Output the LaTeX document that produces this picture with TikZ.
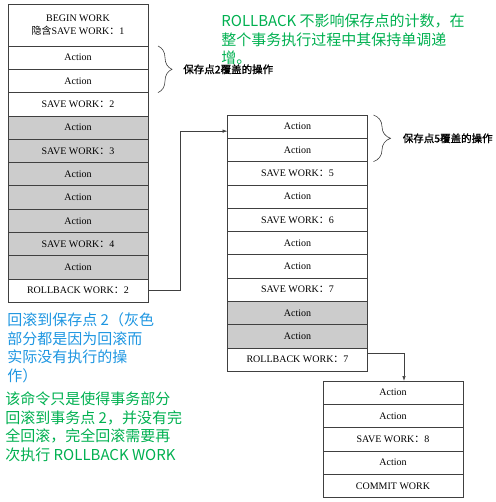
\documentclass[tikz,border=0pt]{standalone}
\usepackage{fontspec}
\setmainfont{Liberation Serif}
\newfontfamily\cjk{Noto Sans CJK SC}
\newfontfamily\cjkheavy[FakeBold=1.2]{Noto Sans CJK SC}
\usepackage{tikz}
\usetikzlibrary{arrows.meta, positioning, decorations.pathreplacing}
\definecolor{colorNoteGreen}{RGB}{0,176,80}
\definecolor{colorNoteBlue}{RGB}{30,150,225}
\colorlet{colorUndone}{black!20}
\colorlet{colorFrame}{black!75}
\newcommand{\zhcolon}{{\cjk ：}}
\tikzset{
  cell/.style={draw=colorFrame, line width=0.7pt, minimum width=140pt, minimum height=23.3pt, inner sep=0pt, outer sep=0pt, text=black, font=\fontsize{10}{13}\selectfont},
  undone/.style={cell, fill=colorUndone},
  braceMark/.style={decorate, decoration={brace, amplitude=#1}, line width=0.6pt, colorFrame},
  braceText/.style={midway, anchor=west, inner sep=0pt, text=black, font=\cjkheavy\fontsize{10.5}{12}\selectfont},
  note/.style={anchor=north west, inner sep=0pt, align=left, font=\cjk\fontsize{15}{18.6}\selectfont},
}

\begin{document}
\begin{tikzpicture}[x=1pt, y=-1pt, >={Latex[length=5pt,width=3.5pt]}, line width=0.7pt]
\useasboundingbox (0,0) rectangle (495,502);
% left column, rolled back to save point 2
\node[cell, minimum height=42pt, align=center] (begin) at (78,25) {BEGIN WORK\\{\cjk 隐含}SAVE WORK\zhcolon 1};
\node[cell, below=0pt of begin] (a1) {Action};
\node[cell, below=0pt of a1] (a2) {Action};
\node[cell, below=0pt of a2] (sw2) {SAVE WORK\zhcolon 2};
\node[undone, below=0pt of sw2] (a3) {Action};
\node[undone, below=0pt of a3] (sw3) {SAVE WORK\zhcolon 3};
\node[undone, below=0pt of sw3] (a4) {Action};
\node[undone, below=0pt of a4] (a5) {Action};
\node[undone, below=0pt of a5] (a6) {Action};
\node[undone, below=0pt of a6] (sw4) {SAVE WORK\zhcolon 4};
\node[undone, below=0pt of sw4] (a7) {Action};
\node[cell, below=0pt of a7] (rb2) {ROLLBACK WORK\zhcolon 2};
% middle column, rolled back to save point 7
\node[cell] (b1) at (297.5,126.65) {Action};
\node[cell, below=0pt of b1] (b2) {Action};
\node[cell, below=0pt of b2] (sw5) {SAVE WORK\zhcolon 5};
\node[cell, below=0pt of sw5] (b3) {Action};
\node[cell, below=0pt of b3] (sw6) {SAVE WORK\zhcolon 6};
\node[cell, below=0pt of sw6] (b4) {Action};
\node[cell, below=0pt of b4] (b5) {Action};
\node[cell, below=0pt of b5] (sw7) {SAVE WORK\zhcolon 7};
\node[undone, below=0pt of sw7] (b6) {Action};
\node[undone, below=0pt of b6] (b7) {Action};
\node[cell, below=0pt of b7] (rb7) {ROLLBACK WORK\zhcolon 7};
% right column, committed
\node[cell] (c1) at (393,392.65) {Action};
\node[cell, below=0pt of c1] (c2) {Action};
\node[cell, below=0pt of c2] (sw8) {SAVE WORK\zhcolon 8};
\node[cell, below=0pt of sw8] (c3) {Action};
\node[cell, below=0pt of c3] (commit) {COMMIT WORK};
% connectors
\draw[->, colorFrame] (rb2.east) -- ++(32,0) |- ([yshift=-4.5pt]b1.west);
\draw[->, colorFrame] ([yshift=6.5pt]rb7.east) -| ([xshift=11pt]c1.north);
% braces
\draw[braceMark=14pt] ([xshift=10pt]a1.north east) -- ([xshift=10pt]a2.south east) node[braceText, xshift=25pt] {保存点2覆盖的操作};
\draw[braceMark=17pt] ([xshift=6pt]b1.north east) -- ([xshift=6pt]b2.south east) node[braceText, xshift=29pt] {保存点5覆盖的操作};
% notes
\node[note, text=colorNoteGreen] (noteTop) at (221,13.5) {ROLLBACK 不影响保存点的计数，在\\整个事务执行过程中其保持单调递\\增。};
\node[note, text=colorNoteBlue] (noteBlue) at (7,312.5) {回滚到保存点 2（灰色\\部分都是因为回滚而\\实际没有执行的操\\作）};
\node[note, text=colorNoteGreen] (noteBottom) at (5,391.5) {该命令只是使得事务部分\\回滚到事务点 2，并没有完\\全回滚，完全回滚需要再\\次执行 ROLLBACK WORK};
\end{tikzpicture}
\end{document}
